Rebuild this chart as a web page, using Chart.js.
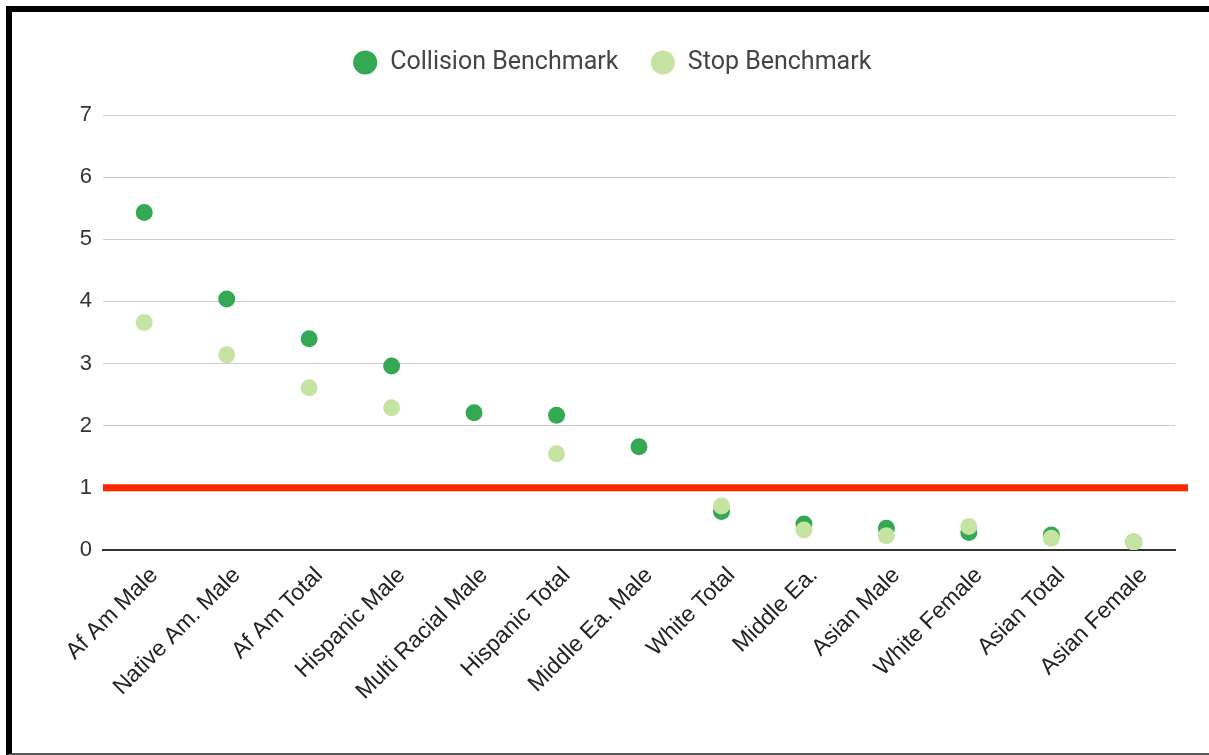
<!DOCTYPE html>
<html>
<head>
<meta charset="utf-8">
<script src="https://cdn.jsdelivr.net/npm/chart.js@4.4.1/dist/chart.umd.min.js"></script>
<style>
  html, body { margin: 0; padding: 0; background: #fff; overflow: hidden; }
  body { width: 1209px; height: 755px; position: relative; }
  #frame {
    position: absolute; left: 6px; top: 6px; width: 1220px; height: 741px;
    border-top: 6px solid #000; border-left: 6px solid #000; border-bottom: 2px solid #555;
  }
  #wrap { position: absolute; left: 0; top: 0; width: 1209px; height: 755px; }
</style>
</head>
<body>
<div id="frame"></div>
<div id="wrap"><canvas id="chart" width="1209" height="755"></canvas></div>
<script>
// Benchmark ratios by group
const categories = [
  'Af Am Male', 'Native Am. Male', 'Af Am Total', 'Hispanic Male', 'Multi Racial Male',
  'Hispanic Total', 'Middle Ea. Male', 'White Total', 'Middle Ea.', 'Asian Male',
  'White Female', 'Asian Total', 'Asian Female'
];
const collisionBenchmark = [5.43, 4.04, 3.40, 2.96, 2.21, 2.17, 1.66, 0.62, 0.42, 0.35, 0.28, 0.24, 0.13];
const stopBenchmark      = [3.66, 3.14, 2.61, 2.29, null, 1.55, null, 0.71, 0.32, 0.23, 0.38, 0.19, 0.13];
const yTicks = [0, 1, 2, 3, 4, 5, 6, 7];
const parityLevel = 1;

// Horizontal parity line drawn through the y scale
const parityLine = {
  id: 'parityLine',
  beforeDatasetsDraw(chart) {
    const { ctx, chartArea, scales } = chart;
    const y = scales.y.getPixelForValue(parityLevel);
    ctx.save();
    ctx.strokeStyle = '#ff2600';
    ctx.lineWidth = 7;
    ctx.beginPath();
    ctx.moveTo(chartArea.left, y);
    ctx.lineTo(chartArea.right + 13, y);
    ctx.stroke();
    ctx.restore();
  }
};

// Extra room between the legend and the plot
const legendGap = {
  id: 'legendGap',
  beforeInit(chart) {
    const origFit = chart.legend.fit;
    chart.legend.fit = function () {
      origFit.call(this);
      this.height = 97;
    };
  }
};

new Chart(document.getElementById('chart'), {
  type: 'line',
  data: {
    labels: categories,
    datasets: [
      {
        label: 'Collision Benchmark',
        data: collisionBenchmark,
        showLine: false,
        backgroundColor: '#34a853',
        borderColor: '#34a853',
        pointRadius: 8.5,
        pointBorderWidth: 0,
        pointHoverRadius: 8.5,
        order: 1
      },
      {
        label: 'Stop Benchmark',
        data: stopBenchmark,
        showLine: false,
        backgroundColor: '#c5e4a2',
        borderColor: '#c5e4a2',
        pointRadius: 8.5,
        pointBorderWidth: 0,
        pointHoverRadius: 8.5,
        order: 0
      }
    ]
  },
  options: {
    responsive: false,
    animation: false,
    events: [],
    layout: { padding: { left: 49, right: 34, top: 18, bottom: 0 } },
    plugins: {
      tooltip: { enabled: false },
      legend: {
        position: 'top',
        align: 'center',
        labels: {
          usePointStyle: true,
          pointStyle: 'circle',
          boxHeight: 17,
          boxWidth: 25,
          padding: 32,
          color: '#444',
          font: { family: 'Roboto', size: 25 },
          sort: (a, b) => a.datasetIndex - b.datasetIndex
        }
      }
    },
    scales: {
      x: {
        type: 'category',
        offset: true,
        grid: { display: false, drawTicks: false },
        border: { display: true, color: '#333', width: 2 },
        ticks: {
          autoSkip: false,
          minRotation: 45,
          maxRotation: 45,
          padding: 12,
          labelOffset: 10,
          color: '#222',
          font: { family: 'Liberation Sans', size: 23 }
        },
        afterFit(scale) { scale.height = 205; scale.paddingLeft = 0; scale.paddingRight = 0; }
      },
      y: {
        min: 0,
        max: 7,
        afterBuildTicks(scale) { scale.ticks = yTicks.map(v => ({ value: v })); },
        grid: { color: '#cccccc', lineWidth: 1, drawTicks: false },
        border: { display: false },
        ticks: {
          padding: 11,
          color: '#333',
          font: { family: 'Liberation Sans', size: 22 }
        },
        afterFit(scale) { scale.width = 54; }
      }
    }
  },
  plugins: [parityLine, legendGap]
});
</script>
</body>
</html>
